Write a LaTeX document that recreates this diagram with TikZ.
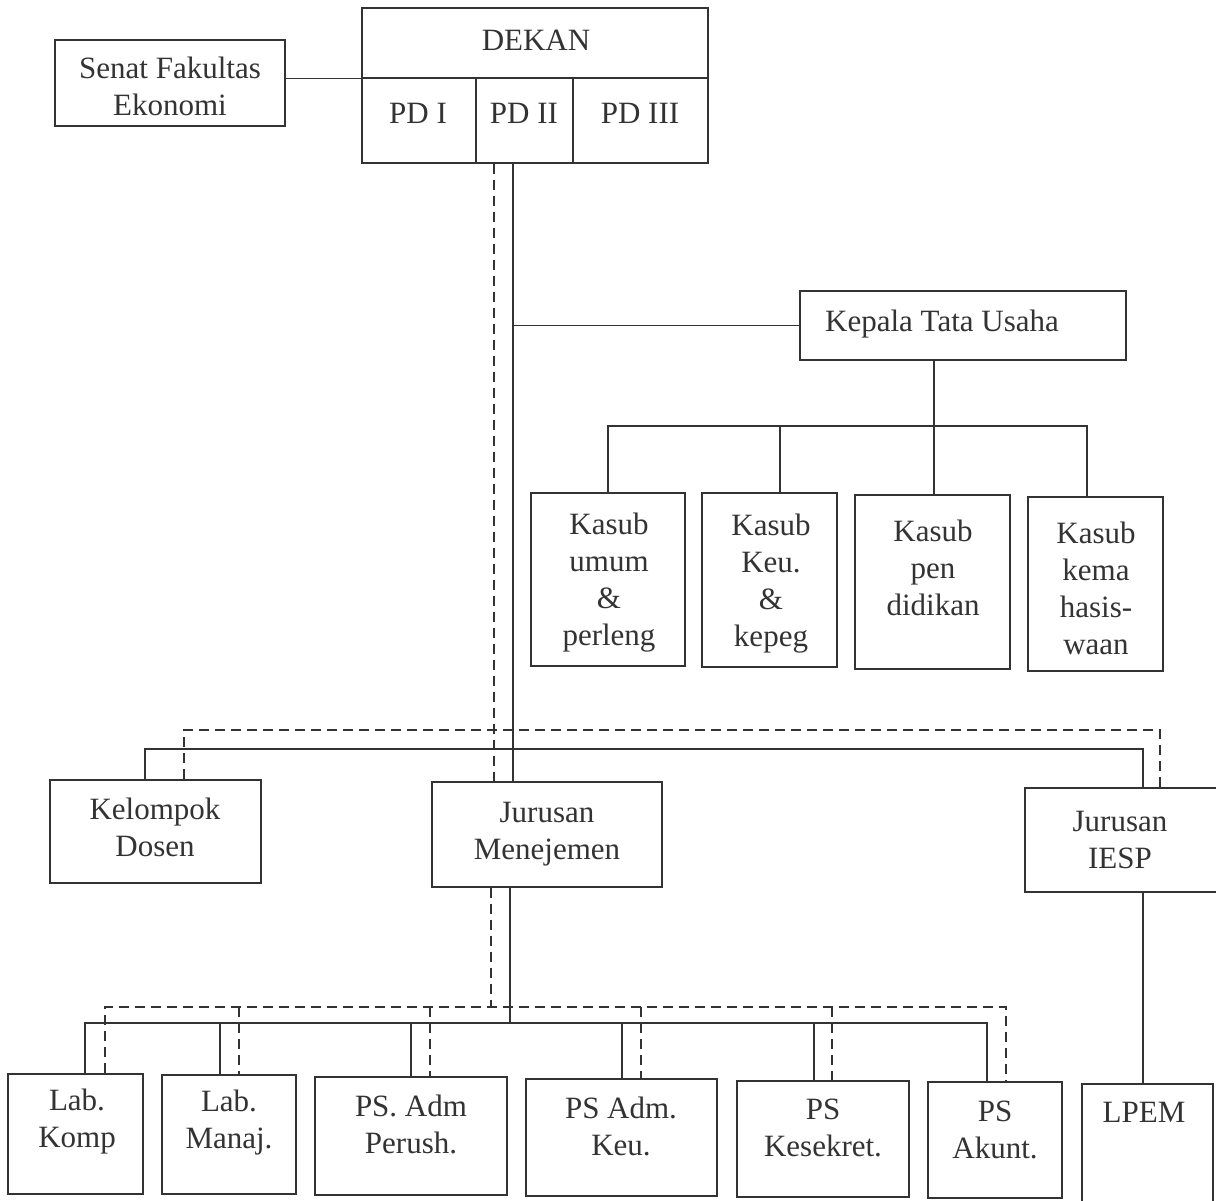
\documentclass[tikz,border=0pt]{standalone}
\usepackage{fontspec}
\setmainfont{Liberation Serif}
\usetikzlibrary{fit}
\definecolor{linec}{HTML}{333333}
\definecolor{textc}{HTML}{333333}
\begin{document}
\begin{tikzpicture}[x=1pt,y=-1pt,
  box/.style={draw=linec, line width=1.3pt, inner sep=0pt},
  txt/.style={text=textc, align=center, font=\fontsize{31}{37}\selectfont, inner sep=0pt},
  ln/.style={draw=linec, line width=1.3pt},
  dsh/.style={ln, dash pattern=on 10pt off 6pt}]
\useasboundingbox[fill=white] (0,0) rectangle (1216,1201);

% top
\node[box, fit={(55,40) (285,126)}] (senat) {};
\node[txt] (senatT) at (170,86) {Senat Fakultas\\Ekonomi};
\node[box, fit={(362,8) (708,78)}] (dekan) {};
\node[txt] (dekanT) at (536,40) {DEKAN};
\node[box, fit={(362,78) (476,163)}] (pd1) {};
\node[box, fit={(476,78) (573,163)}] (pd2) {};
\node[box, fit={(573,78) (708,163)}] (pd3) {};
\node[txt] (pd1T) at (418,113) {PD I};
\node[txt] (pd2T) at (524,113) {PD II};
\node[txt] (pd3T) at (640,113) {PD III};

\node[box, fit={(800,291) (1126,360)}] (ktu) {};
\node[txt] (ktuT) at (942,324) {Kepala Tata Usaha};

% kasub
\node[box, fit={(531,493) (685,666)}] (k1) {};
\node[box, fit={(702,493) (837,667)}] (k2) {};
\node[box, fit={(855,495) (1010,669)}] (k3) {};
\node[box, fit={(1028,497) (1163,671)}] (k4) {};
\node[txt, anchor=north] (k1T) at (609,513) {Kasub\\umum\\\&\\perleng};
\node[txt, anchor=north] (k2T) at (771,514) {Kasub\\Keu.\\\&\\kepeg};
\node[txt, anchor=north] (k3T) at (933,520) {Kasub\\pen\\didikan};
\node[txt, anchor=north] (k4T) at (1096,522) {Kasub\\kema\\hasis-\\waan};

% middle
\node[box, fit={(50,780) (261,883)}] (kel) {};
\node[txt] (kelT) at (155,827) {Kelompok\\Dosen};
\node[box, fit={(432,782) (662,887)}] (jm) {};
\node[txt] (jmT) at (547,834) {Jurusan\\Menejemen};
\node[box, fit={(1025,788) (1224,892)}] (iesp) {};
\node[txt] (iespT) at (1120,840) {Jurusan\\IESP};

% bottom
\node[box, fit={(8,1074) (143,1194)}] (lk) {};
\node[box, fit={(162,1075) (296,1194)}] (lm) {};
\node[box, fit={(315,1077) (507,1195)}] (pap) {};
\node[box, fit={(526,1079) (717,1196)}] (pak) {};
\node[box, fit={(737,1081) (909,1197)}] (pks) {};
\node[box, fit={(928,1082) (1062,1198)}] (pas) {};
\node[box, fit={(1082,1084) (1213,1215)}] (lpem) {};
\node[txt] (lkT) at (77,1122) {Lab.\\Komp};
\node[txt] (lmT) at (229,1123) {Lab.\\Manaj.};
\node[txt] (papT) at (411,1124) {PS. Adm\\Perush.};
\node[txt] (pakT) at (621,1126) {PS Adm.\\Keu.};
\node[txt] (pksT) at (823,1128) {PS\\Kesekret.};
\node[txt] (pasT) at (995,1130) {PS\\Akunt.};
\node[txt] (lpemT) at (1144,1112) {LPEM};

% helper coordinates
\coordinate (sv) at (513,0);
\coordinate (dv) at (494,0);
\coordinate (sv2) at (510,0);
\coordinate (dv2) at (491,0);
\coordinate (kb) at (0,426);
\coordinate (kx) at (934,0);
\coordinate (d2) at (780,0);
\coordinate (d4) at (1087,0);
\coordinate (sb) at (0,749);
\coordinate (db) at (0,730);
\coordinate (kls) at (145,0);
\coordinate (kld) at (184,0);
\coordinate (ils) at (1143,0);
\coordinate (ild) at (1160,0);
\coordinate (bsb) at (0,1023);
\coordinate (bdb) at (0,1007);
\coordinate (s1) at (85,0);
\coordinate (s2) at (220,0);
\coordinate (s3) at (411,0);
\coordinate (s4) at (622,0);
\coordinate (s5) at (814,0);
\coordinate (s6) at (987,0);
\coordinate (q1) at (105,0);
\coordinate (q2) at (239,0);
\coordinate (q3) at (430,0);
\coordinate (q4) at (641,0);
\coordinate (q5) at (832,0);
\coordinate (q6) at (1006,0);

% connectors top
\draw[ln] (senat.east |- dekan.south) -- (dekan.south west);
\draw[ln] (sv |- pd2.south) -- (sv |- jm.north);
\draw[dsh] (dv |- pd2.south) -- (dv |- jm.north);
\draw[ln] (sv |- ktu.west) -- (ktu.west);

% kasub
\draw[ln] (kx |- ktu.south) -- (kx |- k3.north);
\draw[ln] (k1.north) -- (k1.north |- kb) -- (d4 |- kb) -- (d4 |- k4.north);
\draw[ln] (d2 |- kb) -- (d2 |- k2.north);

% middle buses
\draw[ln] (kls |- kel.north) -- (kls |- sb) -- (ils |- sb) -- (ils |- iesp.north);
\draw[dsh] (kld |- kel.north) -- (kld |- db) -- (ild |- db) -- (ild |- iesp.north);

% bottom buses
\draw[ln] (sv2 |- jm.south) -- (sv2 |- bsb);
\draw[dsh] (dv2 |- jm.south) -- (dv2 |- bdb);
\draw[ln] (s1 |- lk.north) -- (s1 |- bsb) -- (s6 |- bsb) -- (s6 |- pas.north);
\draw[ln] (s2 |- bsb) -- (s2 |- lm.north);
\draw[ln] (s3 |- bsb) -- (s3 |- pap.north);
\draw[ln] (s4 |- bsb) -- (s4 |- pak.north);
\draw[ln] (s5 |- bsb) -- (s5 |- pks.north);
\draw[dsh] (q1 |- lk.north) -- (q1 |- bdb) -- (q6 |- bdb) -- (q6 |- pas.north);
\draw[dsh] (q2 |- bdb) -- (q2 |- lm.north);
\draw[dsh] (q3 |- bdb) -- (q3 |- pap.north);
\draw[dsh] (q4 |- bdb) -- (q4 |- pak.north);
\draw[dsh] (q5 |- bdb) -- (q5 |- pks.north);
\draw[ln] (ils |- iesp.south) -- (ils |- lpem.north);
\end{tikzpicture}
\end{document}
